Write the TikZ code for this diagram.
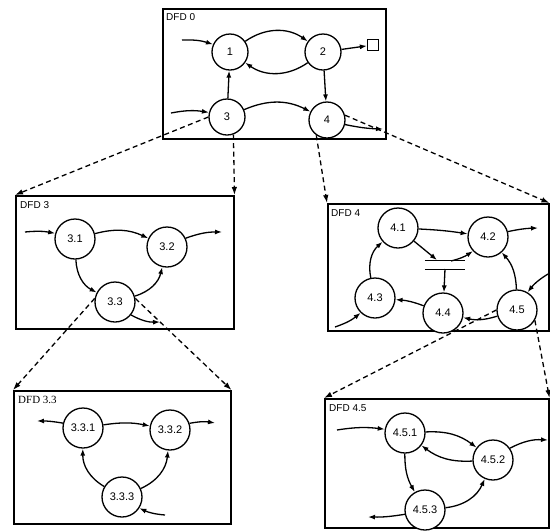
\documentclass[tikz,border=0pt]{standalone}
\usepackage{fontspec}
\setmainfont{Liberation Sans}
\newfontfamily\timesfont{Liberation Serif}
\usetikzlibrary{arrows.meta,backgrounds}

\begin{document}
\begin{tikzpicture}[x=1pt,y=-1pt,
  proc/.style={draw,circle,fill=white,line width=1.3pt,minimum size=40pt,
               inner sep=0pt,font=\fontsize{11}{11}\selectfont},
  dfd/.style={draw,line width=1.5pt,anchor=north west,inner sep=0pt},
  tag/.style={anchor=north west,inner sep=0pt,font=\fontsize{10}{10}\selectfont},
  arr/.style={-{Latex[length=7pt,width=5pt]},line width=1.3pt},
  expd/.style={-{Latex[length=8pt,width=5.5pt]},line width=1.3pt,
               dash pattern=on 5pt off 3.5pt}
]
\useasboundingbox (0,0) rectangle (550,531);

% boxes
\node[dfd,minimum width=223pt,minimum height=130pt] (D0)  at (162,8)   {};
\node[dfd,minimum width=218pt,minimum height=133pt] (D3)  at (15,195)  {};
\node[dfd,minimum width=221pt,minimum height=127pt] (D4)  at (327,203) {};
\node[dfd,minimum width=217pt,minimum height=133pt] (D33) at (13,390)  {};
\node[dfd,minimum width=224pt,minimum height=129pt] (D45) at (324,398) {};

\node[tag] (t0)  at (166,13)  {DFD 0};
\node[tag] (t3)  at (20,201)  {DFD 3};
\node[tag] (t4)  at (331,209) {DFD 4};
\node[tag,font=\timesfont\fontsize{11}{11}\selectfont] (t33) at (18,396) {DFD 3.3};
\node[tag] (t45) at (329,404) {DFD 4.5};

% DFD 0
\node[proc,minimum size=36pt] (p1) at (230,52)  {1};
\node[proc,minimum size=36pt] (p2) at (323,52)  {2};
\node[proc,minimum size=36pt] (p3) at (227,117) {3};
\node[proc,minimum size=36pt] (p4) at (327,120) {4};
\node[draw,line width=1.2pt,minimum size=11pt,inner sep=0pt] (term) at (373,45) {};
\coordinate (in1)  at (182,40);
\coordinate (in3)  at (171,113);
\coordinate (out4) at (383,129);

\draw[arr] (in1) to[bend left=10] (p1);
\draw[arr] (in3) to[bend left=10] (p3);
\draw[arr] (p1) to[bend left=35] (p2);
\draw[arr] (p2) to[bend left=35] (p1);
\draw[arr] (p3) -- (p1);
\draw[arr] (p2) -- (p4);
\draw[arr] (p3) to[bend left=25] (p4);
\draw[arr] (p2) -- (term);
\draw[arr] (p4) to[bend right=5] (out4);

% DFD 3
\node[proc] (p31) at (75,239)  {3.1};
\node[proc] (p32) at (167,247) {3.2};
\node[proc] (p33) at (115,302) {3.3};
\coordinate (in31)  at (25,232);
\coordinate (out32) at (222,232);
\coordinate (out33) at (160,322);

\draw[arr] (in31) to[bend left=8] (p31);
\draw[arr] (p31) to[bend left=20] (p32);
\draw[arr] (p32) to[bend left=10] (out32);
\draw[arr] (p31) to[bend right=30] (p33);
\draw[arr] (p33) to[bend right=30] (p32);
\draw[arr] (p33) to[bend right=15] (out33);

% DFD 3.3
\begin{scope}[every node/.append style={font=\timesfont\fontsize{11}{11}\selectfont}]
\node[proc] (p331) at (83,428)  {3.3.1};
\node[proc] (p332) at (170,430) {3.3.2};
\node[proc] (p333) at (122,497) {3.3.3};
\end{scope}
\coordinate (out331) at (37,421);
\coordinate (out332) at (215,423);
\coordinate (in333)  at (165,515);

\draw[arr] (p331) to[bend right=5] (out331);
\draw[arr] (p331) to[bend left=10] (p332);
\draw[arr] (p332) to[bend left=10] (out332);
\draw[arr] (p333) to[bend left=30] (p331);
\draw[arr] (p333) to[bend right=30] (p332);
\draw[arr] (in333) to[bend left=10] (p333);

% DFD 4
\node[proc] (p41) at (398,228) {4.1};
\node[proc] (p42) at (488,237) {4.2};
\node[proc] (p43) at (375,298) {4.3};
\node[proc] (p44) at (443,313) {4.4};
\node[proc] (p45) at (517,310) {4.5};
\node[minimum width=40pt,minimum height=8pt,inner sep=0pt] (ds) at (445,265) {};
\draw[line width=1.3pt] (ds.north west) -- (ds.north east);
\draw[line width=1.3pt] (ds.south west) -- (ds.south east);
\coordinate (dsin)  at (437,260);
\coordinate (dsup)  at (451,261);
\coordinate (dsdn)  at (445,269);
\coordinate (in43)  at (335,327);
\coordinate (out42) at (538,228);
\coordinate (in45)  at (548,274);

\draw[arr] (p41) to[bend left=3] (p42);
\draw[arr] (p41) -- (dsin);
\draw[arr] (dsup) to[bend right=10] (p42);
\draw[arr] (dsdn) -- (p44);
\draw[arr] (p44) to[bend right=8] (p43);
\draw[arr] (p43) to[bend left=30] (p41);
\draw[arr] (p45) to[bend right=20] (p42);
\draw[arr] (p45) to[bend left=15] (p44);
\draw[arr] (in43) to[bend right=10] (p43);
\draw[arr] (p42) to[bend left=5] (out42);
\draw[arr] (in45) to[bend right=10] (p45);

% DFD 4.5
\node[proc] (p451) at (405,433) {4.5.1};
\node[proc] (p452) at (493,460) {4.5.2};
\node[proc] (p453) at (425,510) {4.5.3};
\coordinate (in451)  at (337,430);
\coordinate (out452) at (548,440);
\coordinate (out453) at (368,517);

\draw[arr] (in451) to[bend left=8] (p451);
\draw[arr] (p451) to[bend left=20] (p452);
\draw[arr] (p452) to[bend left=20] (p451);
\draw[arr] (p451) to[bend right=15] (p453);
\draw[arr] (p453) to[bend right=30] (p452);
\draw[arr] (p452) to[bend left=15] (out452);
\draw[arr] (p453) to[bend left=5] (out453);

% expansion links
\begin{scope}[on background layer]
\draw[expd] (p3.west) -- (D3.north west);
\draw[expd] (p3.-70) -- (D3.north east);
\draw[expd] (p4.235) -- (D4.north west);
\draw[expd] (p4.15) -- (D4.north east);
\draw[expd] (p33.170) -- (D33.north west);
\draw[expd] (p33.10) -- (D33.north east);
\draw[expd] (p45.west) -- (D45.north west);
\draw[expd] (p45.-30) -- (D45.north east);
\end{scope}
\end{tikzpicture}
\end{document}
